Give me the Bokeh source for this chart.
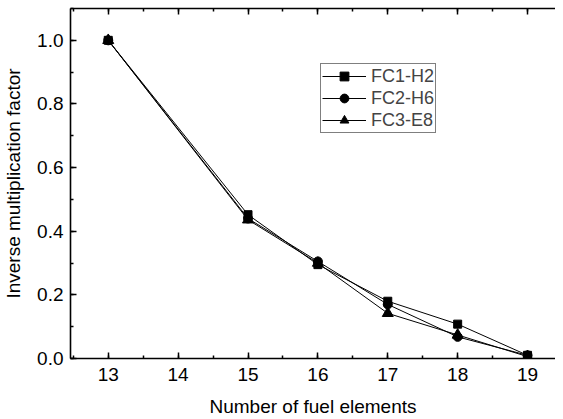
from bokeh.plotting import figure
from bokeh.models import LinearAxis, Range1d, SingleIntervalTicker, Legend, LegendItem, NumeralTickFormatter
from bokeh.embed import file_html
from bokeh.resources import INLINE

x_vals = [13, 15, 16, 17, 18, 19]
fc1_h2 = [1.0, 0.452, 0.295, 0.180, 0.108, 0.010]
fc2_h6 = [1.0, 0.440, 0.305, 0.170, 0.068, 0.010]
fc3_e8 = [1.0, 0.436, 0.300, 0.142, 0.074, 0.006]
x_ticks = [13, 14, 15, 16, 17, 18, 19]

FONT = "Liberation Sans"

p = figure(width=555, height=419, output_backend="svg", toolbar_location=None,
           x_range=Range1d(12.46, 19.40), y_range=Range1d(0, 1.1),
           min_border_left=67, min_border_right=0, min_border_top=8, min_border_bottom=0)
p.outline_line_color = None
p.grid.visible = False
p.background_fill_color = "white"

def style(ax, ticker):
    ax.ticker = ticker
    ax.axis_line_color = "black"
    ax.axis_line_width = 1.6
    ax.major_tick_in = 6
    ax.major_tick_out = 0
    ax.minor_tick_in = 3
    ax.minor_tick_out = 0
    ax.major_tick_line_width = 1.5
    ax.minor_tick_line_width = 1.5
    ax.major_label_text_font = FONT
    ax.major_label_text_font_size = "19px"
    ax.major_label_text_color = "black"
    ax.axis_label_text_font = FONT
    ax.axis_label_text_font_size = "19px"
    ax.axis_label_text_font_style = "normal"
    ax.axis_label_text_color = "black"

style(p.xaxis[0], SingleIntervalTicker(interval=1, num_minor_ticks=2))
style(p.yaxis[0], SingleIntervalTicker(interval=0.2, num_minor_ticks=2))
p.xaxis[0].axis_label = "Number of fuel elements"
p.yaxis[0].axis_label = "Inverse multiplication factor"
p.yaxis[0].formatter = NumeralTickFormatter(format="0.0")
p.xaxis[0].major_label_standoff = 9
p.xaxis[0].axis_label_standoff = 12
p.yaxis[0].major_label_standoff = 7
p.yaxis[0].axis_label_standoff = 10

top = LinearAxis()
style(top, SingleIntervalTicker(interval=1, num_minor_ticks=2))
top.major_label_overrides = {t: "" for t in x_ticks}
top.major_label_standoff = 0
p.add_layout(top, "above")

r1l = p.line(x_vals, fc1_h2, line_color="black", line_width=1)
r1m = p.scatter(x_vals, fc1_h2, marker="square", size=8, fill_color="black", line_color="black")
r2l = p.line(x_vals, fc2_h6, line_color="black", line_width=1)
r2m = p.scatter(x_vals, fc2_h6, marker="circle", size=9, fill_color="black", line_color="black")
r3l = p.line(x_vals, fc3_e8, line_color="black", line_width=1)
r3m = p.scatter(x_vals, fc3_e8, marker="triangle", size=11, fill_color="black", line_color="black")

legend = Legend(items=[
    LegendItem(label="FC1-H2", renderers=[r1l, r1m]),
    LegendItem(label="FC2-H6", renderers=[r2l, r2m]),
    LegendItem(label="FC3-E8", renderers=[r3l, r3m]),
], location=(250, 225))
legend.border_line_color = "black"
legend.border_line_width = 1
legend.padding = 1
legend.spacing = 0
legend.margin = 0
legend.label_height = 22
legend.glyph_height = 22
legend.glyph_width = 44
legend.label_standoff = 5
legend.label_text_font = FONT
legend.label_text_font_size = "18px"
legend.background_fill_alpha = 1
p.add_layout(legend, "center")

open("out.html", "w").write(file_html(p, INLINE))
